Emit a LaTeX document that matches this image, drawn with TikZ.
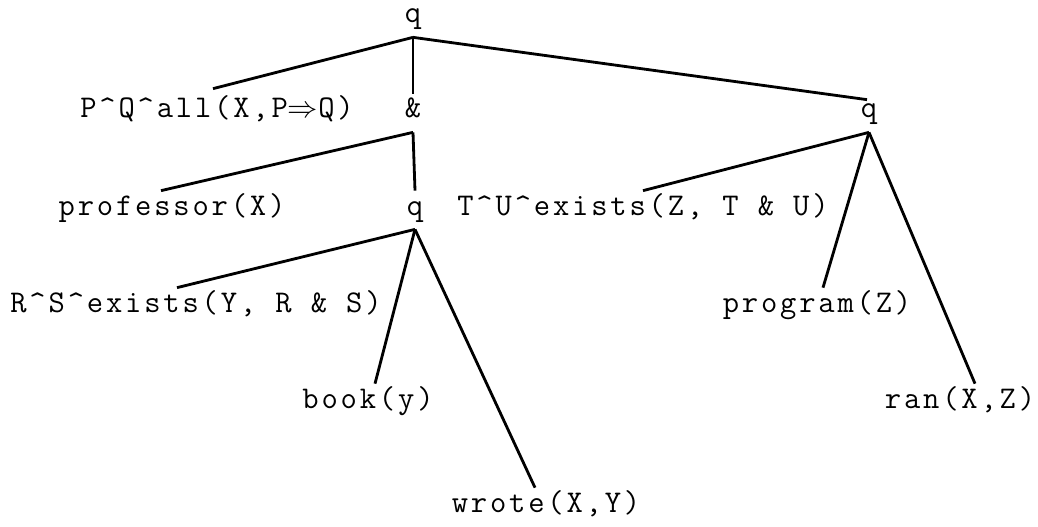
\documentclass[tikz,border=0pt]{standalone}
\usepackage{fontspec}
\setmonofont[LetterSpace=9]{Latin Modern Mono}
\newcommand{\crt}{\textasciicircum}

\begin{document}
\begin{tikzpicture}[
    x=0.02cm, y=-0.02cm,
    % tree labels
    term/.style={
        font=\ttfamily\fontsize{18pt}{22pt}\selectfont,
        anchor=base, inner sep=0pt,
        text height=0.48cm, text depth=0.28cm
    },
    % tree branches
    branch/.style={draw=black, line width=1.6pt}
]
\useasboundingbox (0,0) rectangle (1038,527);

% root
\node[term] (root) at (413,23) {q};

% first level
\node[term] (forall) at (217,118) {P\crt Q\crt all(X,P\ensuremath{\Rightarrow}Q)};
\node[term] (conj) at (413,118) {\&};
\node[term] (qright) at (869,118) {q};

% second level
\node[term] (prof) at (172,215) {professor(X)};
\node[term] (qmid) at (415,215) {q};
\node[term] (exT) at (643,215) {T\crt U\crt exists(Z, T \& U)};

% third level
\node[term] (exR) at (196,312) {R\crt S\crt exists(Y, R \& S)};
\node[term] (prog) at (817,312) {program(Z)};

% fourth level
\node[term] (book) at (368,408) {book(y)};
\node[term] (ran) at (960,408) {ran(X,Z)};

% fifth level
\node[term] (wrote) at (546,512) {wrote(X,Y)};

% branches from the root
\draw[branch] (root.south) -- ([xshift=-0.08cm,yshift=0.1cm]forall.north);
\draw[branch] (root.south) -- (conj.north);
\draw[branch] (root.south) -- ([xshift=-0.04cm,yshift=-0.12cm]qright.north);

% branches from the conjunction
\draw[branch] (conj.south) -- ([xshift=-0.22cm]prof.north);
\draw[branch] (conj.south) -- (qmid.north);

% branches from the middle q
\draw[branch] (qmid.south) -- ([xshift=-0.38cm]exR.north);
\draw[branch] (qmid.south) -- ([xshift=0.14cm]book.north);
\draw[branch] (qmid.south) -- ([xshift=-0.22cm]wrote.north);

% branches from the right q
\draw[branch] (qright.south) -- (exT.north);
\draw[branch] (qright.south) -- ([xshift=0.12cm]prog.north);
\draw[branch] (qright.south) -- ([xshift=0.3cm]ran.north);

\end{tikzpicture}
\end{document}
